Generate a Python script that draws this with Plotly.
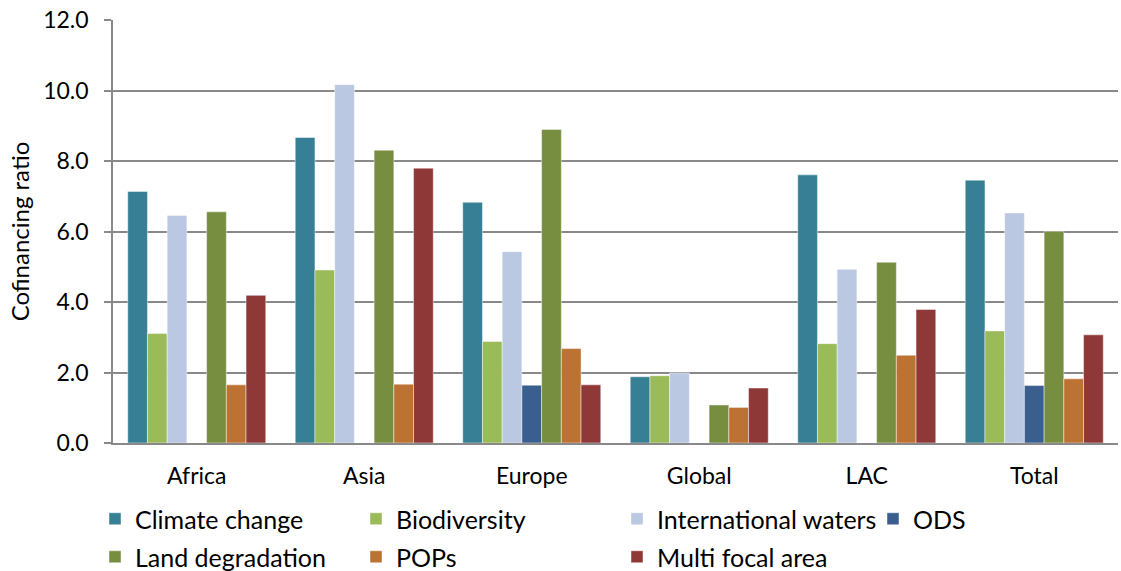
import plotly.graph_objects as go

categories = ["Africa", "Asia", "Europe", "Global", "LAC", "Total"]

climate_change = [7.14, 8.67, 6.83, 1.88, 7.61, 7.46]
biodiversity = [3.11, 4.91, 2.88, 1.91, 2.82, 3.18]
international_waters = [6.46, 10.17, 5.43, 1.99, 4.93, 6.53]
ods = [None, None, 1.64, None, None, 1.63]
land_degradation = [6.56, 8.31, 8.90, 1.08, 5.13, 6.01]
pops = [1.65, 1.67, 2.68, 1.01, 2.49, 1.82]
multi_focal = [4.19, 7.80, 1.65, 1.56, 3.79, 3.07]

y_ticks = [0, 2, 4, 6, 8, 10, 12]

series = [
    ("Climate change", climate_change, "#377F95", "legend"),
    ("Biodiversity", biodiversity, "#9BBB59", "legend"),
    ("International waters", international_waters, "#BBC8E1", "legend"),
    ("ODS", ods, "#3A5F8F", "legend3"),
    ("Land degradation", land_degradation, "#778D40", "legend2"),
    ("POPs", pops, "#BC7233", "legend2"),
    ("Multi focal area", multi_focal, "#8E3938", "legend2"),
]

FONT = "Lato"
W, H = 1121, 571
fig = go.Figure()
for name, vals, color, lg in series:
    fig.add_trace(go.Bar(
        name=name, x=categories, y=vals,
        marker=dict(color=color, line=dict(color="rgba(255,255,255,0.45)", width=1)),
        legend=lg,
    ))

legend_common = dict(
    orientation="h", xref="container", yref="container",
    xanchor="left", yanchor="middle",
    entrywidth=216, entrywidthmode="pixels",
    font=dict(family=FONT, size=25, color="#000000"),
    bgcolor="rgba(0,0,0,0)", itemclick=False, traceorder="normal",
)

fig.update_layout(
    width=W, height=H,
    margin=dict(l=113, r=3, t=20, b=128, autoexpand=False),
    paper_bgcolor="white", plot_bgcolor="white",
    barmode="group", bargap=0.176, bargroupgap=0,
    font=dict(family=FONT, size=23, color="#000000"),
    showlegend=True,
    legend=dict(x=95 / W, y=1 - 519 / H, **legend_common),
    legend3=dict(x=873 / W, y=1 - 519 / H, **legend_common),
    legend2=dict(x=95 / W, y=1 - 557 / H, **legend_common),
    xaxis=dict(
        automargin=False,
        showline=True, linecolor="#898989", linewidth=1.5,
        showgrid=False, ticks="", ticklabelstandoff=12,
        tickfont=dict(family=FONT, size=23, color="#000000"),
    ),
    yaxis=dict(
        automargin=False, ticklabeloverflow="allow",
        range=[0, 12.005], tickvals=y_ticks, tickformat=".1f",
        showline=True, linecolor="#898989", linewidth=1.5,
        showgrid=True, gridcolor="#898989", gridwidth=1.5,
        ticks="outside", ticklen=7, tickcolor="#898989", tickwidth=1.5,
        ticklabelstandoff=11, zeroline=False,
        tickfont=dict(family=FONT, size=23, color="#000000"),
        title=dict(text="Cofinancing ratio", standoff=7,
                   font=dict(family=FONT, size=24, color="#000000")),
    ),
)

fig.write_html("out.html", config={"displayModeBar": False},
               post_script="document.body.style.margin='0';")
